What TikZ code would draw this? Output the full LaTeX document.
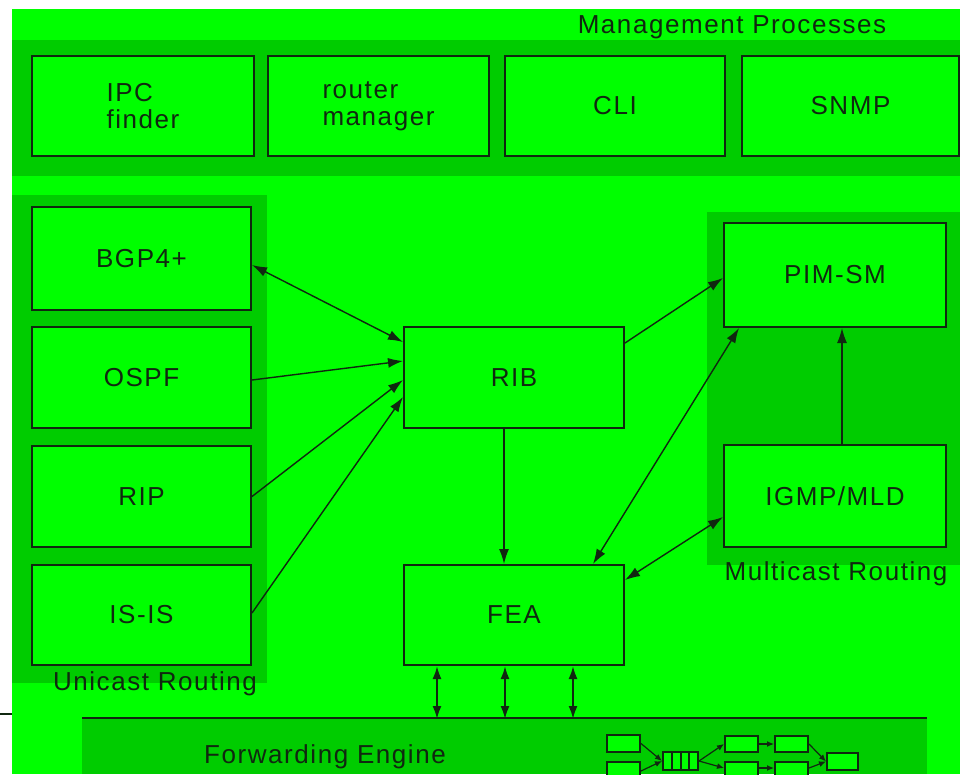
\documentclass[tikz,border=0pt]{standalone}
\usepackage{fontspec}
\setmainfont{Liberation Sans}[LetterSpace=6]
\usetikzlibrary{arrows.meta,calc}
\definecolor{bg}{RGB}{0,255,0}
\definecolor{band}{RGB}{0,204,0}
\definecolor{ink}{RGB}{16,40,16}
\begin{document}
\begin{tikzpicture}[x=1pt,y=-1pt,
  box/.style={draw=ink,line width=2pt,fill=bg,minimum width=220pt,minimum height=101pt,inner sep=0pt,text=ink,font=\fontsize{26}{27}\selectfont,align=left},
  lbl/.style={text=ink,font=\fontsize{26}{28}\selectfont,inner sep=0pt},
  conn/.style={draw=ink,line width=1.4pt,-{Latex[length=15pt,width=10pt]}},
  bconn/.style={draw=ink,line width=1.4pt,{Latex[length=15pt,width=10pt]}-{Latex[length=15pt,width=10pt]}},
  vconn/.style={draw=ink,line width=2pt,{Latex[length=13pt,width=9pt]}-{Latex[length=13pt,width=9pt]}},
  ibox/.style={draw=ink,line width=2pt,fill=bg,minimum width=33pt,minimum height=17pt,inner sep=0pt},
  iconn/.style={draw=ink,line width=1.2pt,-{Latex[length=7pt,width=6pt]}}]
\path[use as bounding box] (0,0) rectangle (960,774);
\fill[white] (0,0) rectangle (960,774);
\fill[bg] (12,9) rectangle (960,774);
\draw[ink,line width=2pt] (0,714) -- (12,714);
% bands
\fill[band] (12,40) rectangle (960,176);
\fill[band] (12,195) rectangle (267,683);
\fill[band] (707,212) rectangle (960,565);
\fill[band] (82,718) rectangle (927,774);
\draw[ink,line width=2pt] (82,718) -- (927,718);
% band labels
\node[lbl] (mgmt) at (732,27) {Management Processes};
\node[lbl] (uni) at (155,684) {Unicast Routing};
\node[lbl] (multi) at (836,574) {Multicast Routing};
\node[lbl] (fwd) at (325,757) {Forwarding Engine};
% management boxes
\node[box,minimum width=222pt,minimum height=100pt] (ipc) at (143,106) {IPC\\finder};
\node[box,minimum width=221pt,minimum height=100pt] (router) at (378.5,106) {router\\manager};
\node[box,minimum width=220pt,minimum height=100pt] (cli) at (615,106) {CLI};
\node[box,minimum width=217pt,minimum height=100pt] (snmp) at (850.5,106) {SNMP};
% unicast
\node[box,minimum width=219pt,minimum height=103pt] (bgp) at (141.5,258.5) {BGP4+};
\node[box,minimum width=219pt] (ospf) at (141.5,377.5) {OSPF};
\node[box,minimum width=219pt] (rip) at (141.5,496.5) {RIP};
\node[box,minimum width=219pt,minimum height=100pt] (isis) at (141.5,615) {IS-IS};
% center
\node[box] (rib) at (514,377.5) {RIB};
\node[box,minimum height=100pt] (fea) at (514,615) {FEA};
% multicast
\node[box,minimum width=222pt,minimum height=104pt] (pim) at (835,275) {PIM-SM};
\node[box,minimum width=222pt,minimum height=102pt] (igmp) at (835,496) {IGMP/MLD};
% connectors
\draw[bconn] ($(bgp.east)+(0,6.5)$) -- ($(rib.west)+(0,-35.5)$);
\draw[conn] ($(ospf.east)+(0,2.5)$) -- ($(rib.west)+(0,-16.5)$);
\draw[conn] (rip.east) -- ($(rib.west)+(0,2.5)$);
\draw[conn] ($(isis.east)+(0,-2)$) -- ($(rib.west)+(0,19.5)$);
\draw[conn] ($(rib.east)+(0,-34.5)$) -- ($(pim.west)+(0,3)$);
\draw[conn] ($(rib.south)+(-10,0)$) -- ($(fea.north)+(-10,0)$);
\draw[bconn] ($(pim.south west)+(16,0)$) -- ($(fea.north east)+(-32,0)$);
\draw[bconn] ($(igmp.west)+(0,21)$) -- ($(fea.east)+(0,-35)$);
\draw[conn] ($(igmp.north)+(7,0)$) -- ($(pim.south)+(7,0)$);
\draw[vconn] ($(fea.south)+(-77,0)$) -- ++(0,53);
\draw[vconn] ($(fea.south)+(-9,0)$) -- ++(0,53);
\draw[vconn] ($(fea.south)+(59,0)$) -- ++(0,53);
% forwarding engine icon
\node[ibox] (a1) at (623.5,743.5) {};
\node[ibox,minimum height=18pt] (a2) at (623.5,771) {};
\node[ibox,minimum width=35pt,minimum height=18pt] (q) at (680.5,761) {};
\draw[ink,line width=2pt] (q.north) -- (q.south);
\draw[ink,line width=2pt] ($(q.north)+(-8.5,0)$) -- ($(q.south)+(-8.5,0)$);
\draw[ink,line width=2pt] ($(q.north)+(8.5,0)$) -- ($(q.south)+(8.5,0)$);
\node[ibox,minimum height=16pt] (b1) at (741.5,744) {};
\node[ibox,minimum height=18pt] (b2) at (741.5,771) {};
\node[ibox,minimum height=16pt] (c1) at (791.5,744) {};
\node[ibox,minimum height=18pt] (c2) at (791.5,771) {};
\node[ibox,minimum width=31pt] (d) at (842.5,761.5) {};
\draw[iconn] (a1.east) -- (q.west);
\draw[iconn] (a2.east) -- (q.west);
\draw[iconn] (q.east) -- (b1.west);
\draw[iconn] (q.east) -- ($(b2.west)+(0,-3)$);
\draw[iconn] (b1.east) -- (c1.west);
\draw[iconn] ($(b2.east)+(0,-3)$) -- ($(c2.west)+(0,-3)$);
\draw[iconn] (c1.east) -- (d.west);
\draw[iconn] ($(c2.east)+(0,-3)$) -- (d.west);
\end{tikzpicture}
\end{document}
